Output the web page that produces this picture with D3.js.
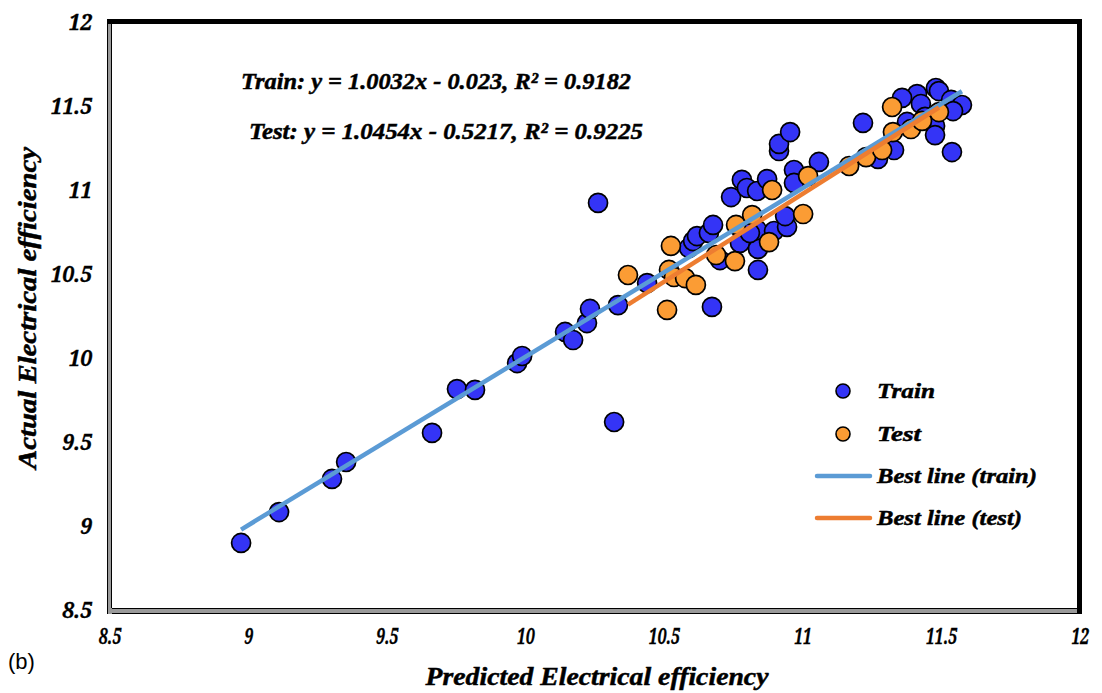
<!DOCTYPE html>
<html>
<head>
<meta charset="utf-8">
<script src="https://cdn.jsdelivr.net/npm/d3@7"></script>
<style>
  html, body { margin: 0; padding: 0; background: #fff; }
  svg { display: block; }
</style>
</head>
<body>
<svg id="chart" width="1102" height="693"></svg>
<script>
// ---------- DATA ----------
const trainPred = [8.973, 9.110, 9.301, 9.352, 9.662, 9.752, 9.817, 9.969, 9.987, 10.142,
  10.171, 10.221, 10.232, 10.261, 10.319, 10.333, 10.438, 10.672, 10.589, 10.604,
  10.618, 10.661, 10.676, 10.701, 10.773, 10.838, 10.838, 10.835, 10.809, 10.896,
  10.943, 10.936, 10.741, 10.780, 10.798, 10.835, 10.871, 10.968, 10.968, 11.058,
  10.914, 10.914, 10.954, 11.217, 11.329, 11.271, 11.480, 11.491, 11.412, 11.358,
  11.426, 11.535, 11.574, 11.542, 11.441, 11.376, 11.477, 11.477, 11.538];
const trainActual = [8.899, 9.083, 9.280, 9.381, 9.554, 9.815, 9.810, 9.970, 10.012, 10.155,
  10.107, 10.208, 10.292, 10.923, 9.619, 10.315, 10.446, 10.304, 10.655, 10.696,
  10.726, 10.744, 10.792, 10.583, 10.685, 10.649, 10.524, 10.762, 10.744, 10.756,
  10.780, 10.845, 10.958, 11.060, 11.012, 10.994, 11.065, 11.119, 11.042, 11.167,
  11.232, 11.274, 11.345, 11.399, 11.238, 11.185, 11.607, 11.589, 11.571, 11.548,
  11.512, 11.536, 11.506, 11.470, 11.435, 11.405, 11.381, 11.327, 11.226];
const testPred = [10.369, 10.510, 10.517, 10.535, 10.575, 10.614, 10.524, 10.687, 10.755, 10.759,
  10.817, 10.878, 10.889, 11.001, 11.019, 11.167, 11.228, 11.286, 11.325, 11.390,
  11.322, 11.491, 11.430];
const testActual = [10.494, 10.286, 10.524, 10.482, 10.476, 10.435, 10.667, 10.613, 10.577, 10.792,
  10.851, 10.690, 11.000, 10.857, 11.083, 11.143, 11.196, 11.238, 11.345, 11.363,
  11.494, 11.464, 11.411];
const trainFit = { slope: 1.0032, intercept: -0.023 };
const testFit = { slope: 1.0454, intercept: -0.5217 };
const xTicks = [8.5, 9, 9.5, 10, 10.5, 11, 11.5, 12];
const yTicks = [8.5, 9, 9.5, 10, 10.5, 11, 11.5, 12];
const equationLabels = ["Train: y = 1.0032x - 0.023, R² = 0.9182", "Test: y = 1.0454x - 0.5217, R² = 0.9225"];
const legendLabels = ["Train", "Test", "Best line (train)", "Best line (test)"];
const xTitle = "Predicted Electrical efficiency";
const yTitle = "Actual Electrical efficiency";
const panelLabel = "(b)";

// ---------- STYLE ----------
const BLUE = "#3434f6", ORANGE = "#fb9c34", LBLUE = "#5b9bd5", LORANGE = "#ed7d31";

function serifText(sel, size, family) {
  return sel.attr("font-family", family || "Liberation Serif").attr("font-weight", "bold").attr("font-style", "italic")
    .attr("font-size", size).attr("fill", "#000").attr("stroke", "#000").attr("stroke-width", 0.5);
}

const svg = d3.select("#chart");
const x = d3.scaleLinear().domain([8.5, 12]).range([110, 1080]);
const y = d3.scaleLinear().domain([8.5, 12]).range([610, 22]);

// plot frame
const frame = svg.append("g");
frame.append("rect").attr("x", 107).attr("y", 608).attr("width", 975).attr("height", 6).attr("fill", "#9a9a9a");
frame.append("line").attr("x1", 107).attr("x2", 1082).attr("y1", 608.5).attr("y2", 608.5).attr("stroke", "#000");
frame.append("line").attr("x1", 107).attr("x2", 1082).attr("y1", 613.5).attr("y2", 613.5).attr("stroke", "#000");
frame.append("rect").attr("x", 107).attr("y", 19).attr("width", 5).attr("height", 595).attr("fill", "#9a9a9a");
frame.append("line").attr("x1", 107.5).attr("x2", 107.5).attr("y1", 19).attr("y2", 614).attr("stroke", "#000");
frame.append("line").attr("x1", 111.5).attr("x2", 111.5).attr("y1", 24).attr("y2", 608).attr("stroke", "#000");
frame.append("rect").attr("x", 107).attr("y", 19).attr("width", 975).attr("height", 5).attr("fill", "#000");
frame.append("rect").attr("x", 1077).attr("y", 19).attr("width", 5).attr("height", 595).attr("fill", "#000");

// tick labels, positioned by the scales
const fmt = d3.format("~g");
const xLab = svg.append("g").selectAll("text").data(xTicks).join("text")
  .attr("transform", d => `translate(${x(d)},644) scale(0.72,1)`)
  .attr("text-anchor", "middle").text(d => fmt(d));
serifText(xLab, 22, "Noto Serif").attr("stroke-width", 0.3);

const yLab = svg.append("g").selectAll("text").data(yTicks).join("text")
  .attr("x", 92).attr("y", d => y(d)).attr("dy", "0.36em")
  .attr("text-anchor", "end").text(d => fmt(d));
serifText(yLab, 21, "Noto Serif").attr("stroke-width", 0.3);

// titles
serifText(svg.append("text").attr("x", 597).attr("y", 685).attr("text-anchor", "middle"), 26)
  .attr("textLength", 343).attr("lengthAdjust", "spacingAndGlyphs").text(xTitle);
serifText(svg.append("text").attr("transform", "translate(36,308) rotate(-90)").attr("text-anchor", "middle"), 25)
  .attr("textLength", 322).attr("lengthAdjust", "spacingAndGlyphs").text(yTitle);
svg.append("text").attr("x", 8).attr("y", 669).attr("font-family", "Liberation Sans")
  .attr("font-size", 22).attr("fill", "#000").text(panelLabel);

// equation annotations
const eqPos = [{ x: 241, y: 89, w: 390 }, { x: 249, y: 139, w: 394 }];
equationLabels.forEach((t, i) => {
  serifText(svg.append("text").attr("x", eqPos[i].x).attr("y", eqPos[i].y), 24)
    .attr("textLength", eqPos[i].w).attr("lengthAdjust", "spacingAndGlyphs").text(t);
});

// points
const train = trainPred.map((p, i) => ({ p, a: trainActual[i] }));
const test = testPred.map((p, i) => ({ p, a: testActual[i] }));
svg.append("g").selectAll("circle").data(train).join("circle")
  .attr("cx", d => x(d.p)).attr("cy", d => y(d.a)).attr("r", 9.5)
  .attr("fill", BLUE).attr("stroke", "#000").attr("stroke-width", 1.7);
svg.append("g").selectAll("circle").data(test).join("circle")
  .attr("cx", d => x(d.p)).attr("cy", d => y(d.a)).attr("r", 9.5)
  .attr("fill", ORANGE).attr("stroke", "#000").attr("stroke-width", 1.7);

// best-fit lines
function fitLine(preds, fit) {
  const [lo, hi] = d3.extent(preds);
  return [[lo, fit.slope * lo + fit.intercept], [hi, fit.slope * hi + fit.intercept]];
}
const line = d3.line().x(d => x(d[0])).y(d => y(d[1]));
svg.append("path").attr("d", line(fitLine(trainPred, trainFit))).attr("stroke", LBLUE).attr("stroke-width", 4.5).attr("fill", "none");
svg.append("path").attr("d", line(fitLine(testPred, testFit))).attr("stroke", LORANGE).attr("stroke-width", 4.5).attr("fill", "none");

// legend
const lg = svg.append("g");
const legendY = [391, 434, 476, 518];
const legendW = [58, 44, 160, 145];
legendLabels.forEach((t, i) => {
  if (i < 2) {
    lg.append("circle").attr("cx", 843).attr("cy", legendY[i]).attr("r", 7)
      .attr("fill", i === 0 ? BLUE : ORANGE).attr("stroke", "#000").attr("stroke-width", 1.6);
  } else {
    lg.append("line").attr("x1", 817).attr("x2", 870).attr("y1", legendY[i]).attr("y2", legendY[i])
      .attr("stroke", i === 2 ? LBLUE : LORANGE).attr("stroke-width", 4.5).attr("stroke-linecap", "round");
  }
  serifText(lg.append("text").attr("x", 877).attr("y", legendY[i] + 7), 22)
    .attr("textLength", legendW[i]).attr("lengthAdjust", "spacingAndGlyphs").text(t);
});
</script>
</body>
</html>
